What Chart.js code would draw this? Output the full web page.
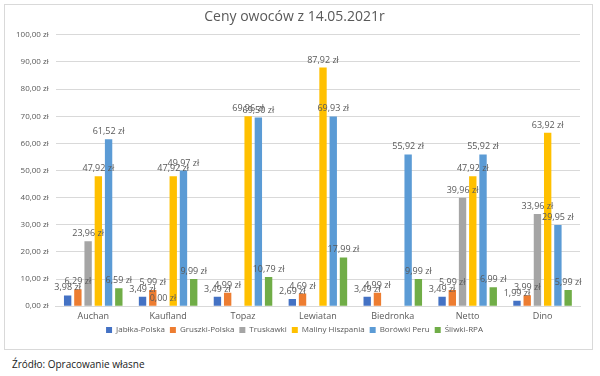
<!DOCTYPE html>
<html><head><meta charset="utf-8">
<script src="https://cdn.jsdelivr.net/npm/chart.js@4/dist/chart.umd.min.js"></script>
<style>
html,body{margin:0;padding:0;background:#fff;}
#box{position:absolute;left:4px;top:4px;width:589px;height:346px;border:1px solid #d9d9d9;box-sizing:border-box;}
#src{position:absolute;left:12px;top:357px;font-family:"Open Sans",sans-serif;font-size:10px;color:#222;}
</style></head>
<body>
<div id="box"><canvas id="c" width="587" height="344"></canvas></div>
<div id="src">Źródło: Opracowanie własne</div>
<script>
const categories = ["Auchan","Kaufland","Topaz","Lewiatan","Biedronka","Netto","Dino"];
const seriesNames = ["Jabłka-Polska","Gruszki-Polska","Truskawki","Maliny Hiszpania","Borówki Peru","Śliwki-RPA"];
const jablka   = [3.98, 3.49, 3.49, 2.69, 3.49, 3.49, 1.99];
const gruszki  = [6.29, 5.99, 4.99, 4.69, 4.99, 5.99, 3.99];
const truskawki= [23.96, 0.00, null, null, null, 39.96, 33.96];
const maliny   = [47.92, 47.92, 69.96, 87.92, null, 47.92, 63.92];
const borowki  = [61.52, 49.97, 69.50, 69.93, 55.92, 55.92, 29.95];
const sliwki   = [6.59, 9.99, 10.79, 17.99, 9.99, 6.99, 5.99];
const yTicks = [0,10,20,30,40,50,60,70,80,90,100];
const colors = ["#4472C4","#ED7D31","#A5A5A5","#FFC000","#5B9BD5","#70AD47"];
const values = [jablka,gruszki,truskawki,maliny,borowki,sliwki];
const fmt = v => v.toFixed(2).replace('.',',') + ' zł';
const FONT = '"Open Sans", sans-serif';

const labelPlugin = {
  id:'dl',
  afterDatasetsDraw(chart){
    const ctx = chart.ctx;
    ctx.save();
    ctx.font = '9px ' + FONT;
    ctx.fillStyle = '#595959';
    ctx.textAlign = 'center';
    ctx.textBaseline = 'bottom';
    chart.data.datasets.forEach((ds,i)=>{
      const meta = chart.getDatasetMeta(i);
      meta.data.forEach((el,j)=>{
        const v = ds.data[j];
        if (v === null || v === undefined) return;
        ctx.fillText(fmt(v), el.x, el.y - 3);
      });
    });
    ctx.restore();
  }
};

new Chart(document.getElementById('c'), {
  type:'bar',
  data:{
    labels:categories,
    datasets: seriesNames.map((n,i)=>({label:n,data:values[i],backgroundColor:colors[i],categoryPercentage:0.82,barPercentage:0.72}))
  },
  options:{
    responsive:false,
    animation:false,
    layout:{padding:{left:4,right:12,top:2,bottom:5}},
    plugins:{
      title:{display:true,text:'Ceny owoców z 14.05.2021r',color:'#595959',font:{family:FONT,size:14,weight:'normal'},padding:{top:2,bottom:9}},
      legend:{position:'bottom',labels:{boxWidth:6,boxHeight:6,color:'#595959',font:{family:FONT,size:8},padding:5}},
      tooltip:{enabled:false}
    },
    scales:{
      x:{grid:{display:false,drawTicks:false},border:{color:'#d9d9d9'},ticks:{color:'#595959',font:{family:FONT,size:9},padding:5},
         afterFit(s){ s.height -= 6; }},
      y:{min:0,max:100,afterBuildTicks(ax){ax.ticks=yTicks.map(v=>({value:v}));},
         grid:{color:'#d9d9d9',drawTicks:false},border:{display:false},
         ticks:{color:'#595959',font:{family:FONT,size:8},padding:7,callback:v=>fmt(v)}}
    }
  },
  plugins:[labelPlugin]
});
</script>
</body></html>
